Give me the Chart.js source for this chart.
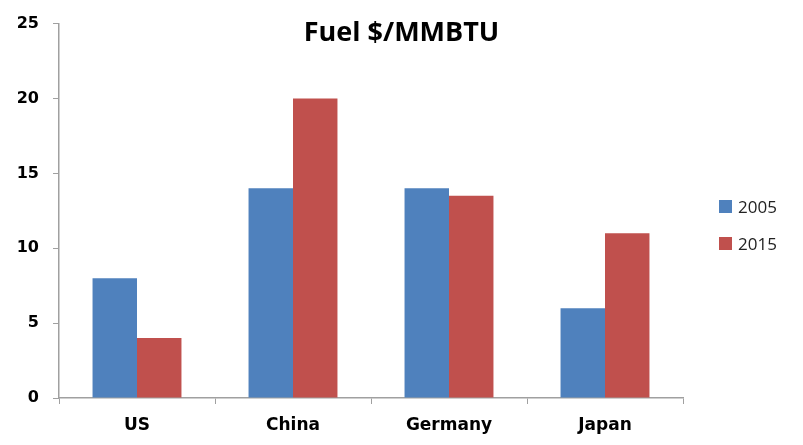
<!DOCTYPE html>
<html>
<head>
<meta charset="utf-8">
<script src="https://cdn.jsdelivr.net/npm/chart.js@4"></script>
<style>
    body { margin: 0; background: #fff; }
    #wrap { position: relative; width: 803px; height: 445px; }
    #titulo {
        position: absolute; left: 0; width: 803px; top: 12px;
        text-align: center; font: bold 27px "Open Sans", sans-serif; color: #000;
    }
    #legenda { position: absolute; left: 719px; top: 188px; font: 17px "Open Sans", sans-serif; color: #222; }
    .item { display: flex; align-items: center; height: 37px; }
    .item span.box { width: 13px; height: 13px; margin-right: 6px; display: inline-block; }
</style>
</head>
<body>
<div id="wrap">
    <canvas id="grafico" width="803" height="445"></canvas>
    <div id="titulo">Fuel $/MMBTU</div>
    <div id="legenda"></div>
</div>
<script>
const categorias = ["US", "China", "Germany", "Japan"];
const series = ["2005", "2015"];
const valores2005 = [8, 14, 14, 6];
const valores2015 = [4, 20, 13.5, 11];
const cores = ["#4F81BD", "#C0504D"];
const ticksY = [0, 5, 10, 15, 20, 25];

new Chart(document.getElementById("grafico"), {
    type: "bar",
    data: {
        labels: categorias,
        datasets: [
            { label: series[0], data: valores2005, backgroundColor: cores[0] },
            { label: series[1], data: valores2015, backgroundColor: cores[1] }
        ]
    },
    options: {
        responsive: false,
        animation: false,
        layout: { padding: { top: 22, right: 120, left: 0, bottom: 0 } },
        datasets: { bar: { categoryPercentage: 0.57, barPercentage: 1 } },
        plugins: {
            legend: { display: false },
            title: { display: false },
            tooltip: { enabled: false }
        },
        scales: {
            x: {
                grid: { drawOnChartArea: false, drawTicks: true, tickLength: 6, color: "#A0A0A0" },
                border: { color: "#A0A0A0", width: 1.5 },
                ticks: { color: "#000", font: { family: "DejaVu Sans", size: 17, weight: "bold" }, padding: 11 },
                afterFit: s => { s.height = 47; }
            },
            y: {
                min: 0,
                max: 25,
                afterBuildTicks: s => { s.ticks = ticksY.map(v => ({ value: v })); },
                grid: { drawOnChartArea: false, drawTicks: true, tickLength: 6, color: "#A0A0A0" },
                border: { color: "#A0A0A0", width: 1.5 },
                ticks: { color: "#000", font: { family: "DejaVu Sans", size: 16, weight: "bold" }, padding: 14 },
                afterFit: s => { s.width = 59; }
            }
        }
    }
});

document.getElementById("legenda").innerHTML = series.map((s, i) => `
    <div class="item"><span class="box" style="background:${cores[i]}"></span>${s}</div>
`).join("");
</script>
</body>
</html>
